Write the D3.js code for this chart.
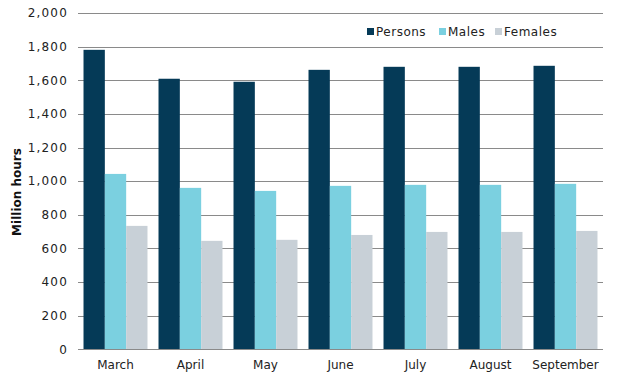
<!DOCTYPE html>
<html>
<head>
<meta charset="utf-8">
<script src="https://cdn.jsdelivr.net/npm/d3@7"></script>
<style>
  html, body { margin: 0; padding: 0; background: #fff; }
  svg { display: block; }
  text { font-family: "DejaVu Sans", sans-serif; }
</style>
</head>
<body>
<svg id="chart" width="631" height="379"></svg>
<script>
const categories = ["March", "April", "May", "June", "July", "August", "September"];
const seriesNames = ["Persons", "Males", "Females"];
const persons = [1781, 1609, 1591, 1662, 1680, 1680, 1686];
const males = [1043, 960, 942, 972, 978, 978, 984];
const females = [734, 645, 651, 680, 698, 698, 704];
const yTicks = [0, 200, 400, 600, 800, 1000, 1200, 1400, 1600, 1800, 2000];
const colors = ["#053a57", "#7bd0e0", "#c8d0d7"];

const seriesValues = [persons, males, females];
const svg = d3.select("#chart");
const margin = { left: 78, right: 28, top: 13, bottom: 30 };
const W = 631, H = 379;

const x = d3.scaleBand().domain(categories)
  .range([margin.left, W - margin.right])
  .paddingInner(0.147).paddingOuter(0.0735);
const xs = d3.scaleBand().domain(seriesNames).range([0, x.bandwidth()]);
const y = d3.scaleLinear().domain([0, 2000]).range([349.3, margin.top]);

// gridlines
svg.append("g").selectAll("line").data(yTicks.filter(d => d > 0)).join("line")
  .attr("x1", margin.left).attr("x2", W - margin.right)
  .attr("y1", d => Math.round(y(d)) + 0.5).attr("y2", d => Math.round(y(d)) + 0.5)
  .attr("stroke", "#8a8a8a").attr("stroke-width", 1);

// bars
const groups = svg.append("g").selectAll("g").data(categories).join("g")
  .attr("transform", d => `translate(${x(d)},0)`);
groups.selectAll("rect").data((c, i) => seriesNames.map((s, j) => ({ s, v: seriesValues[j][i], j })))
  .join("rect")
  .attr("x", d => xs(d.s)).attr("width", xs.bandwidth())
  .attr("y", d => y(d.v)).attr("height", d => y(0) - y(d.v))
  .attr("fill", d => colors[d.j]);

// baseline
svg.append("line")
  .attr("x1", margin.left).attr("x2", W - margin.right)
  .attr("y1", Math.round(y(0)) + 0.5).attr("y2", Math.round(y(0)) + 0.5)
  .attr("stroke", "#8a8a8a").attr("stroke-width", 1.2);

// y axis labels
const yAxis = d3.axisLeft(y).tickValues(yTicks).tickSize(0).tickPadding(0)
  .tickFormat(d3.format(","));
svg.append("g").attr("transform", "translate(68,0)").call(yAxis)
  .call(g => g.select(".domain").remove())
  .selectAll("text").attr("font-size", 12).attr("fill", "#222")
  .attr("letter-spacing", "1.2px")
  .attr("font-family", "DejaVu Sans, sans-serif");

// x axis labels
const xAxis = d3.axisBottom(x).tickSize(0).tickPadding(0);
svg.append("g").attr("transform", "translate(0,360)").call(xAxis)
  .call(g => g.select(".domain").remove())
  .selectAll("text").attr("font-size", 12).attr("fill", "#222")
  .attr("font-family", "DejaVu Sans, sans-serif");

// y title
svg.append("text")
  .attr("transform", "translate(21,192) rotate(-90)")
  .attr("text-anchor", "middle")
  .attr("font-size", 12).attr("font-weight", "bold").attr("fill", "#111")
  .text("Million hours");

// legend
const legendX = [367, 439, 495];
const leg = svg.append("g").selectAll("g").data(seriesNames).join("g")
  .attr("transform", (d, i) => `translate(${legendX[i]},28)`);
leg.append("rect").attr("x", 0).attr("y", 0).attr("width", 7).attr("height", 7)
  .attr("fill", (d, i) => colors[i]);
leg.append("text").attr("x", 9).attr("y", 8).attr("font-size", 12).attr("fill", "#222")
  .attr("letter-spacing", "0.5px")
  .text(d => d);
</script>
</body>
</html>
